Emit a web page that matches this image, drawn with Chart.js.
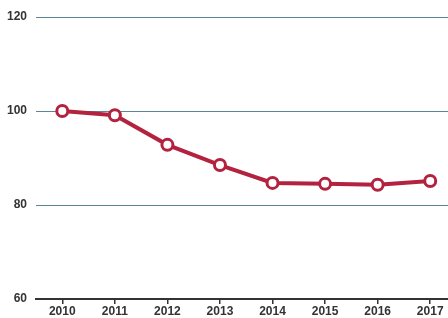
<!DOCTYPE html>
<html>
<head>
<meta charset="utf-8">
<script src="https://cdn.jsdelivr.net/npm/chart.js@4.4.1/dist/chart.umd.min.js"></script>
<style>
  html, body { margin: 0; padding: 0; background: #fff; overflow: hidden; }
  #wrap { width: 465px; height: 318px; }
</style>
</head>
<body>
<div id="wrap"><canvas id="chart"></canvas></div>
<script>
const years = ['2010', '2011', '2012', '2013', '2014', '2015', '2016', '2017'];
const indexValues = [100, 99.1, 92.8, 88.5, 84.7, 84.5, 84.3, 85.1];
const yTicks = [60, 80, 100, 120];

const labelFont = { family: "'Liberation Sans', Arial, sans-serif", size: 12, weight: 'bold' };

new Chart(document.getElementById('chart'), {
  type: 'line',
  data: {
    labels: years,
    datasets: [{
      data: indexValues,
      borderColor: '#b3223e',
      borderWidth: 4,
      pointRadius: 5.5,
      pointBorderWidth: 3,
      pointBackgroundColor: '#ffffff',
      pointBorderColor: '#b3223e',
      tension: 0,
    }],
  },
  options: {
    responsive: true,
    maintainAspectRatio: false,
    animation: false,
    layout: { padding: { top: 17, left: 0, right: 0, bottom: 0 } },
    plugins: { legend: { display: false }, tooltip: { enabled: false } },
    scales: {
      x: {
        offset: true,
        afterFit: (scale) => { scale.height = 19; },
        grid: { drawOnChartArea: false, drawTicks: true, tickLength: 5, color: '#333', lineWidth: 1.5 },
        border: { display: true, color: '#333', width: 2 },
        ticks: { color: '#333', font: labelFont, padding: 0, maxRotation: 0 },
      },
      y: {
        min: yTicks[0],
        max: yTicks[yTicks.length - 1],
        afterFit: (scale) => { scale.width = 36; },
        afterBuildTicks: (scale) => { scale.ticks = yTicks.map((v) => ({ value: v })); },
        grid: {
          drawTicks: false,
          color: (ctx) => (ctx.tick && ctx.tick.value === 60 ? 'rgba(0,0,0,0)' : '#5b8598'),
          lineWidth: 1,
        },
        border: { display: false },
        ticks: { color: '#333', font: labelFont, padding: 9 },
      },
    },
  },
});
</script>
</body>
</html>
